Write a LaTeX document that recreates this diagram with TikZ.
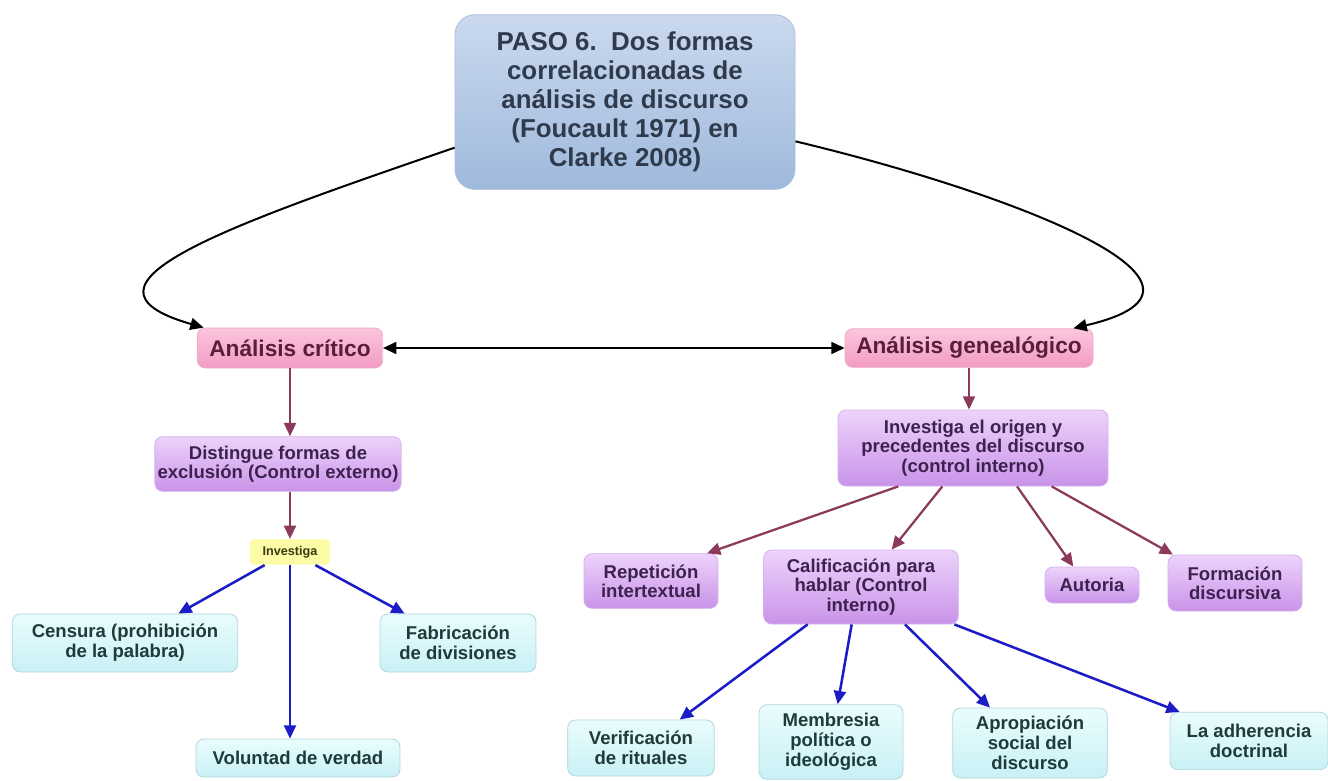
\documentclass[tikz,border=0pt]{standalone}
\usepackage{fontspec}
\setmainfont{Liberation Sans}
\usetikzlibrary{arrows.meta,positioning,calc}

\definecolor{topA}{HTML}{CAD9EE}
\definecolor{topB}{HTML}{9FB9DC}
\definecolor{topline}{HTML}{A9BEDB}
\definecolor{toptext}{HTML}{2F3B4C}
\definecolor{pinkA}{HTML}{FBC6DD}
\definecolor{pinkB}{HTML}{F29BC4}
\definecolor{pinkline}{HTML}{EFA9C9}
\definecolor{pinktext}{HTML}{5B1D3D}
\definecolor{lilaA}{HTML}{EDD3FB}
\definecolor{lilaB}{HTML}{C993E9}
\definecolor{lilaline}{HTML}{D4B2F0}
\definecolor{lilatext}{HTML}{3D2250}
\definecolor{cyanA}{HTML}{EAFCFD}
\definecolor{cyanB}{HTML}{C9F1F5}
\definecolor{cyanline}{HTML}{B3D6DA}
\definecolor{cyantext}{HTML}{1F3A3A}
\definecolor{yellowA}{HTML}{FDFBA6}
\definecolor{yellowtext}{HTML}{3A3A10}
\definecolor{maroon}{HTML}{8C3A5C}
\definecolor{darkblue}{HTML}{1C1CC6}

\tikzset{
  box/.style={rounded corners=6pt, align=center, inner sep=2pt, line width=0.6pt},
  topbox/.style={box, rounded corners=15pt, top color=topA, bottom color=topB, draw=topline,
    text=toptext, font=\bfseries\fontsize{19.4}{21.75}\selectfont},
  pinkbox/.style={box, top color=pinkA, bottom color=pinkB, draw=pinkline,
    text=pinktext, font=\bfseries\fontsize{17}{19}\selectfont},
  lilabox/.style={box, top color=lilaA, bottom color=lilaB, draw=lilaline,
    text=lilatext, font=\bfseries\fontsize{13.9}{14.5}\selectfont},
  cyanbox/.style={box, top color=cyanA, bottom color=cyanB, draw=cyanline,
    text=cyantext, font=\bfseries\fontsize{13.9}{15}\selectfont},
  yellowbox/.style={box, rounded corners=3pt, fill=yellowA, text=yellowtext,
    font=\bfseries\fontsize{9.5}{11}\selectfont},
  curve/.style={draw=black, line width=1.5pt, -{Triangle[length=10pt,width=9pt]}},
  both/.style={draw=black, line width=1.5pt, {Triangle[length=10pt,width=9pt]}-{Triangle[length=10pt,width=9pt]}},
  marrow/.style={draw=maroon, line width=1.7pt, -{Triangle[length=10pt,width=9pt]}},
  barrow/.style={draw=darkblue, line width=1.9pt, -{Triangle[length=10pt,width=9pt]}}
}

\begin{document}
\begin{tikzpicture}[x=0.75pt,y=-0.75pt]
\useasboundingbox (0,0) rectangle (1328,781);

\node[topbox, minimum width=255pt, minimum height=131pt] (top) at (625,102)
  {PASO 6.\ \ Dos formas\\correlacionadas de\\análisis de discurso\\(Foucault 1971) en\\Clarke 2008)};

\node[pinkbox, minimum width=139pt, minimum height=30pt] (critico) at (290,348) {Análisis crítico};
\node[pinkbox, minimum width=186pt, minimum height=29pt] (genea) at (969,348) {Análisis genealógico};

\node[lilabox, minimum width=184pt, minimum height=41pt] (distingue) at (278,464)
  {Distingue formas de\\exclusión (Control externo)};
\node[yellowbox, minimum width=60pt, minimum height=19pt] (investiga) at (290,552) {Investiga};
\node[cyanbox, minimum width=169pt, minimum height=43.5pt] (censura) at (125,643)
  {Censura (prohibición\\de la palabra)};
\node[cyanbox, minimum width=117pt, minimum height=43.5pt] (fabrica) at (458,643)
  {Fabricación\\de divisiones};
\node[cyanbox, minimum width=153pt, minimum height=28.5pt] (voluntad) at (298,758)
  {Voluntad de verdad};

\node[lilabox, minimum width=202.5pt, minimum height=57pt] (origen) at (973,448)
  {Investiga el origen y\\precedentes del discurso\\(control interno)};
\node[lilabox, minimum width=100.5pt, minimum height=41pt] (repeticion) at (651,581)
  {Repetición\\intertextual};
\node[lilabox, minimum width=146pt, minimum height=55.5pt] (califica) at (861,587)
  {Calificación para\\hablar (Control\\interno)};
\node[lilabox, minimum width=70.5pt, minimum height=27pt] (autoria) at (1092,585) {Autoria};
\node[lilabox, minimum width=100.5pt, minimum height=42pt] (formacion) at (1235,583)
  {Formación\\discursiva};

\node[cyanbox, minimum width=110pt, minimum height=42pt] (verifica) at (641,748)
  {Verificación\\de rituales};
\node[cyanbox, minimum width=108pt, minimum height=56pt] (membresia) at (831,742)
  {Membresia\\política o\\ideológica};
\node[cyanbox, minimum width=116pt, minimum height=52.5pt] (apropia) at (1030,743)
  {Apropiación\\social del\\discurso};
\node[cyanbox, minimum width=118.5pt, minimum height=43pt] (adhiere) at (1249,741)
  {La adherencia\\doctrinal};

\draw[curve] (top.195) .. controls (230,225) and (55,285) .. ([xshift=5pt]critico.north west);
\draw[curve] (top.-13) .. controls (1000,190) and (1260,285) .. ([xshift=-15pt]genea.north east);
\draw[both] (critico.east) -- (critico.east -| genea.west);

\draw[marrow] (critico.south) -- (critico.south |- distingue.north);
\draw[marrow] (critico.south |- distingue.south) -- (investiga.north);
\draw[barrow] ([xshift=-19pt]investiga.south) -- ([xshift=40pt]censura.north);
\draw[barrow] ([xshift=19pt]investiga.south) -- ([xshift=-40pt]fabrica.north);
\draw[barrow] (investiga.south) -- (investiga.south |- voluntad.north);

\draw[marrow] (genea.south) -- (genea.south |- origen.north);
\draw[marrow] ([xshift=-56pt]origen.south) -- ([xshift=42pt]repeticion.north);
\draw[marrow] ([xshift=-23pt]origen.south) -- ([xshift=23pt]califica.north);
\draw[marrow] ([xshift=33pt]origen.south) -- ([xshift=-14pt]autoria.north);
\draw[marrow] ([xshift=59pt]origen.south) -- ([xshift=-46.5pt]formacion.north);

\draw[barrow] ([xshift=-40pt]califica.south) -- ([xshift=29pt]verifica.north);
\draw[barrow] ([xshift=-7pt]califica.south) -- ([xshift=5pt]membresia.north);
\draw[barrow] ([xshift=33pt]califica.south) -- ([xshift=-30pt]apropia.north);
\draw[barrow] ([xshift=70pt]califica.south) -- ([xshift=-52pt]adhiere.north);
\end{tikzpicture}
\end{document}
